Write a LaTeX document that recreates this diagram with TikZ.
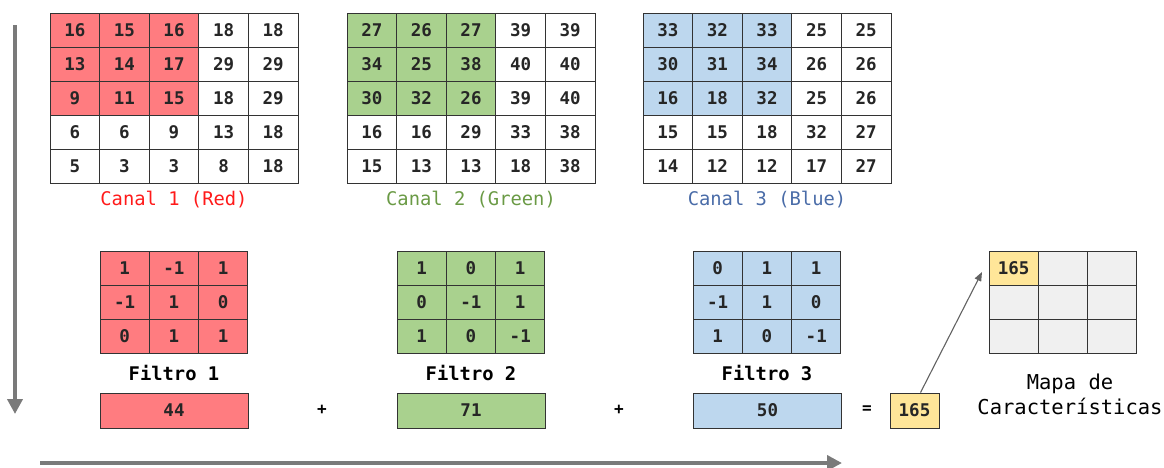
\documentclass[tikz,border=0pt]{standalone}
\usepackage{fontspec}
\setmonofont{DejaVu Sans Mono}
\usetikzlibrary{arrows.meta}
\definecolor{redc}{HTML}{FF7C80}
\definecolor{greenc}{HTML}{A9D18E}
\definecolor{bluec}{HTML}{BDD7EE}
\definecolor{yellowc}{HTML}{FFE699}
\definecolor{grayc}{HTML}{F0F0F0}
\definecolor{redt}{HTML}{FF1A1A}
\definecolor{greent}{HTML}{6A9A45}
\definecolor{bluet}{HTML}{4A6CA8}
\definecolor{arrowc}{HTML}{7A7A7A}
\definecolor{linec}{HTML}{333333}
\tikzset{
  cell/.style={draw=linec, line width=0.9pt, inner sep=0pt, minimum width=49.6pt, minimum height=34pt, font=\ttfamily\bfseries\fontsize{17.5}{18}\selectfont, text=black!85},
  fcell/.style={cell, minimum width=49.3pt},
  lbl/.style={font=\ttfamily\fontsize{18.8}{22}\selectfont, inner sep=0pt},
  flbl/.style={font=\ttfamily\bfseries\fontsize{18.8}{22}\selectfont, inner sep=0pt},
  sumbox/.style={draw=linec, line width=0.9pt, inner sep=0pt, minimum height=35pt, font=\ttfamily\bfseries\fontsize{17.5}{18}\selectfont, text=black!85},
  bigarrow/.style={draw=arrowc, line width=4pt, -{Triangle[length=15pt,width=15pt]}},
  thinarrow/.style={draw=arrowc!80!black, line width=1.1pt, -{Triangle[length=9pt,width=7pt]}}
}
\begin{document}
\begin{tikzpicture}[x=1pt,y=-1pt]
\useasboundingbox (0,0) rectangle (1164,467);
% Canal 1
\foreach \row [count=\i] in {{16,15,16,18,18},{13,14,17,29,29},{9,11,15,18,29},{6,6,9,13,18},{5,3,3,8,18}}{
  \foreach \v [count=\j] in \row {
    \ifnum\i<4 \ifnum\j<4 \def\fc{redc}\else\def\fc{white}\fi \else\def\fc{white}\fi
    \node[cell, fill=\fc] (A-\i-\j) at ({50+(\j-0.5)*49.6},{13+(\i-0.5)*34}) {\v};
  }
}
% Canal 2
\foreach \row [count=\i] in {{27,26,27,39,39},{34,25,38,40,40},{30,32,26,39,40},{16,16,29,33,38},{15,13,13,18,38}}{
  \foreach \v [count=\j] in \row {
    \ifnum\i<4 \ifnum\j<4 \def\fc{greenc}\else\def\fc{white}\fi \else\def\fc{white}\fi
    \node[cell, fill=\fc] (B-\i-\j) at ({347+(\j-0.5)*49.6},{13+(\i-0.5)*34}) {\v};
  }
}
% Canal 3
\foreach \row [count=\i] in {{33,32,33,25,25},{30,31,34,26,26},{16,18,32,25,26},{15,15,18,32,27},{14,12,12,17,27}}{
  \foreach \v [count=\j] in \row {
    \ifnum\i<4 \ifnum\j<4 \def\fc{bluec}\else\def\fc{white}\fi \else\def\fc{white}\fi
    \node[cell, fill=\fc] (C-\i-\j) at ({643+(\j-0.5)*49.6},{13+(\i-0.5)*34}) {\v};
  }
}
\node[lbl, text=redt] (lA) at (174,200) {Canal 1 (Red)};
\node[lbl, text=greent] (lB) at (471,200) {Canal 2 (Green)};
\node[lbl, text=bluet] (lC) at (767,200) {Canal 3 (Blue)};
% Filters
\foreach \row [count=\i] in {{1,-1,1},{-1,1,0},{0,1,1}}{
  \foreach \v [count=\j] in \row {
    \node[fcell, fill=redc] (F1-\i-\j) at ({100+(\j-0.5)*49.3},{251+(\i-0.5)*34}) {\v};
  }
}
\foreach \row [count=\i] in {{1,0,1},{0,-1,1},{1,0,-1}}{
  \foreach \v [count=\j] in \row {
    \node[fcell, fill=greenc] (F2-\i-\j) at ({397+(\j-0.5)*49.3},{251+(\i-0.5)*34}) {\v};
  }
}
\foreach \row [count=\i] in {{0,1,1},{-1,1,0},{1,0,-1}}{
  \foreach \v [count=\j] in \row {
    \node[fcell, fill=bluec] (F3-\i-\j) at ({693+(\j-0.5)*49.3},{251+(\i-0.5)*34}) {\v};
  }
}
\node[flbl] (lF1) at (174,373) {Filtro 1};
\node[flbl] (lF2) at (471,373) {Filtro 2};
\node[flbl] (lF3) at (767,373) {Filtro 3};
% Sums
\node[sumbox, fill=redc, minimum width=148pt] (s1) at (174,410.5) {44};
\node[sumbox, fill=greenc, minimum width=148pt] (s2) at (471,410.5) {71};
\node[sumbox, fill=bluec, minimum width=148pt] (s3) at (767.5,410.5) {50};
\node[flbl, font=\ttfamily\bfseries\fontsize{16}{18}\selectfont] (p1) at (322,410) {+};
\node[flbl, font=\ttfamily\bfseries\fontsize{16}{18}\selectfont] (p2) at (619,410) {+};
\node[flbl, font=\ttfamily\bfseries\fontsize{16}{18}\selectfont] (eq) at (867,410) {=};
\node[sumbox, fill=yellowc, minimum width=49pt] (res) at (914.5,410.5) {165};
% Feature map
\foreach \i in {1,2,3}{
  \foreach \j in {1,2,3}{
    \node[fcell, fill=grayc] (M-\i-\j) at ({989+(\j-0.5)*49.3},{251+(\i-0.5)*34}) {};
  }
}
\node[fcell, fill=yellowc] (M-1-1) at ({989+0.5*49.3},{251+0.5*34}) {165};
\node[lbl, align=center, font=\ttfamily\fontsize{20.5}{25}\selectfont] (lM) at (1070,394) {Mapa de\\Características};
\coordinate (mt) at (982,272);
\draw[thinarrow] ([xshift=6pt]res.north) -- (mt);
% Direction arrows
\coordinate (v0) at (15,25);
\coordinate (v1) at (15,414);
\draw[bigarrow] (v0) -- (v1);
\coordinate (h0) at (40,463);
\coordinate (h1) at (842,463);
\draw[bigarrow] (h0) -- (h1);
\end{tikzpicture}
\end{document}
